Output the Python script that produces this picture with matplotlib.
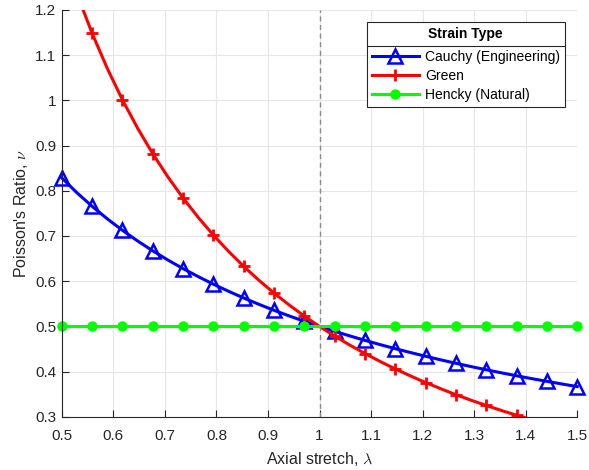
import numpy as np
import matplotlib.pyplot as plt
from matplotlib.lines import Line2D

plt.rcParams['font.family'] = ['Liberation Sans', 'DejaVu Sans']
plt.rcParams['mathtext.fontset'] = 'cm'

# axial stretch grid (0.5 .. 1.5)
stretch = np.linspace(0.5, 1.5, 35)

# Poisson's ratio
cauchy = [0.8284, 0.7955, 0.7655, 0.7379, 0.7125, 0.6890, 0.6671, 0.6468, 0.6278,
          0.6101, 0.5934, 0.5777, 0.5629, 0.5489, 0.5357, 0.5232, 0.5113, 0.5000,
          0.4892, 0.4790, 0.4692, 0.4598, 0.4508, 0.4423, 0.4340, 0.4261, 0.4185,
          0.4112, 0.4042, 0.3974, 0.3909, 0.3846, 0.3786, 0.3727, 0.3670]
green = [1.3333, 1.2350, 1.1480, 1.0704, 1.0009, 0.9383, 0.8818, 0.8305, 0.7837,
         0.7410, 0.7019, 0.6659, 0.6327, 0.6021, 0.5737, 0.5474, 0.5228, 0.5000,
         0.4787, 0.4587, 0.4401, 0.4225, 0.4060, 0.3905, 0.3759, 0.3622, 0.3491,
         0.3368, 0.3252, 0.3141, 0.3037, 0.2937, 0.2842, 0.2752, 0.2667]
hencky = [0.5] * 35

labels = ['Cauchy (Engineering)', 'Green', 'Hencky (Natural)']

fig = plt.figure(figsize=(5.89, 4.7), dpi=100)
ax = fig.add_axes([0.105, 0.113, 0.875, 0.866])

ax.plot(stretch, cauchy, color='#0000ff', lw=2.2, marker='^', markevery=2,
        ms=10, mfc='none', mec='#0000ff', mew=1.8, label=labels[0], clip_on=False)
ax.plot(stretch, green, color='#ff0000', lw=2.2, marker='+', markevery=2,
        ms=8, mew=2, label=labels[1])
ax.plot(stretch, hencky, color='#00ff00', lw=2.2, marker='o', markevery=2,
        ms=6.5, label=labels[2], clip_on=False)
ax.axvline(1.0, color='#8a8a8a', lw=1, dashes=(3.6, 2.6))

ax.set_xlim(0.5, 1.5)
ax.set_ylim(0.3, 1.2)
ax.set_xticks(np.arange(0.5, 1.51, 0.1))
ax.set_yticks(np.arange(0.3, 1.21, 0.1))
ax.set_xticklabels(['0.5', '0.6', '0.7', '0.8', '0.9', '1', '1.1', '1.2', '1.3', '1.4', '1.5'])
ax.set_yticklabels(['0.3', '0.4', '0.5', '0.6', '0.7', '0.8', '0.9', '1', '1.1', '1.2'])
ax.grid(True, color='#e6e6e6', lw=0.8)
ax.set_axisbelow(True)
for s in ['top', 'right']:
    ax.spines[s].set_visible(False)
for s in ['left', 'bottom']:
    ax.spines[s].set_color('#262626')
ax.tick_params(direction='in', length=5, labelsize=11, colors='#262626')
ax.tick_params(axis='x', pad=9)
ax.tick_params(axis='y', pad=4)

ax.set_xlabel(r"Axial stretch, $\lambda$", fontsize=11.5, color='#262626', labelpad=5)
ax.set_ylabel(r"Poisson's Ratio, $\nu$", fontsize=11.5, color='#262626')

leg = ax.legend(title='Strain Type', loc='upper right', bbox_to_anchor=(0.976, 0.969),
                borderaxespad=0, fontsize=10, fancybox=False, edgecolor='#262626',
                framealpha=1, handlelength=3.4, handletextpad=0.45, borderpad=0.35,
                labelspacing=0.38)
leg.get_title().set_fontweight('bold')
leg.get_title().set_fontsize(10)
leg.get_frame().set_linewidth(0.8)
leg._legend_box.sep = 6  # extra room under the title

fig.canvas.draw()
inv = fig.transFigure.inverted()
bb = leg.get_window_extent().transformed(inv)
tb = leg.get_title().get_window_extent().transformed(inv)
fb = leg.get_texts()[0].get_window_extent().transformed(inv)
ysep = (tb.y0 + fb.y1) / 2
fig.add_artist(Line2D([bb.x0, bb.x1], [ysep, ysep], color='#262626', lw=0.8))

fig.savefig('out.png', dpi=100)
